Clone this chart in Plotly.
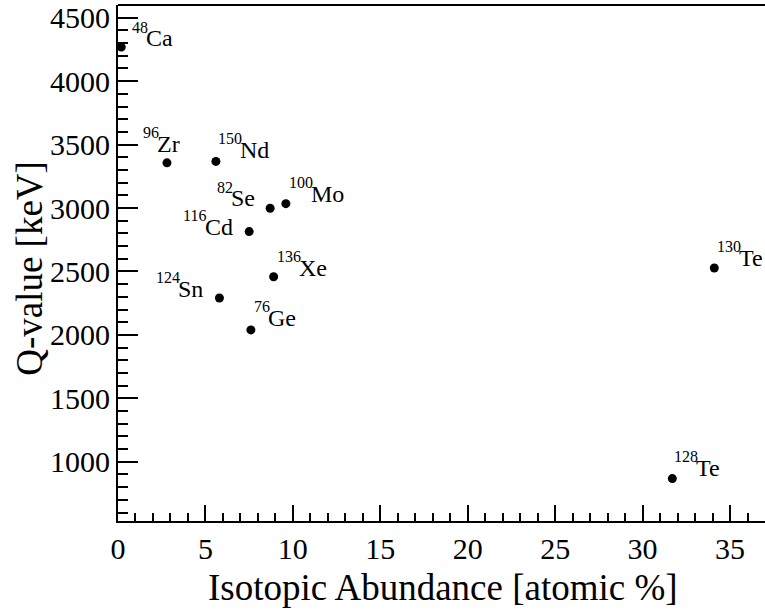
import plotly.graph_objects as go

# Data
isotopes = ["48Ca", "76Ge", "82Se", "96Zr", "100Mo", "116Cd", "124Sn", "128Te", "130Te", "136Xe", "150Nd"]
mass_numbers = ["48", "76", "82", "96", "100", "116", "124", "128", "130", "136", "150"]
elements = ["Ca", "Ge", "Se", "Zr", "Mo", "Cd", "Sn", "Te", "Te", "Xe", "Nd"]
abundance = [0.187, 7.6, 8.7, 2.8, 9.6, 7.5, 5.8, 31.7, 34.1, 8.9, 5.6]
qvalue = [4268, 2039, 2998, 3356, 3034, 2814, 2291, 867, 2527, 2458, 3367]

# label offsets in pixels (left edge, baseline) relative to each point
label_dx = {"48Ca": 10, "76Ge": 2, "82Se": -54, "96Zr": -25, "100Mo": 2, "116Cd": -67,
            "124Sn": -64, "128Te": 1, "130Te": 2, "136Xe": 2, "150Nd": 1}
label_dy = {"48Ca": 0, "76Ge": -3, "82Se": -1, "96Zr": -10, "100Mo": -1, "116Cd": 4,
            "124Sn": 0, "128Te": -2, "130Te": -1, "136Xe": 0, "150Nd": -3}

FONT = "Liberation Serif"
W, H = 765, 613
L, R, T, B = 117.5, 0, 4.5, 92
EL_FS = 24      # element symbol font size
SUP_FS = 16     # mass number font size
SUP_RISE = 14   # baseline rise of mass number
DESC = 0.216    # font descent fraction

fig = go.Figure()
fig.add_trace(go.Scatter(
    x=abundance, y=qvalue, mode="markers",
    marker=dict(symbol="circle", size=9, color="black"),
    hoverinfo="x+y", showlegend=False,
))

annotations = []
for iso, m, el, xv, yv in zip(isotopes, mass_numbers, elements, abundance, qvalue):
    dx, dy = label_dx[iso], label_dy[iso]
    annotations.append(dict(
        x=xv, y=yv, xref="x", yref="y",
        text=m, showarrow=False,
        xanchor="left", yanchor="bottom",
        xshift=dx, yshift=-(dy - SUP_RISE) - DESC * SUP_FS,
        font=dict(family=FONT, size=SUP_FS, color="black"),
        borderpad=0,
    ))
    annotations.append(dict(
        x=xv, y=yv, xref="x", yref="y",
        text=el, showarrow=False,
        xanchor="left", yanchor="bottom",
        xshift=dx + len(m) * 0.5 * SUP_FS - 2, yshift=-dy - DESC * EL_FS,
        font=dict(family=FONT, size=EL_FS, color="black"),
        borderpad=0,
    ))

pw = W - L - R
ph = H - T - B
TITLE_FS = 37
# axis titles
annotations.append(dict(
    x=(679 - L) / pw, y=-(601 + DESC * TITLE_FS - T - ph) / ph, xref="paper", yref="paper",
    text="Isotopic Abundance [atomic %]", showarrow=False,
    xanchor="right", yanchor="bottom", borderpad=0,
    font=dict(family=FONT, size=TITLE_FS, color="black"),
))
annotations.append(dict(
    x=(29 - L) / pw, y=1 - (268 - T) / ph, xref="paper", yref="paper",
    text="Q-value [keV]", showarrow=False, textangle=-90,
    xanchor="center", yanchor="middle", borderpad=0,
    font=dict(family=FONT, size=TITLE_FS, color="black"),
))

fig.update_layout(
    width=W, height=H,
    margin=dict(l=L, r=R, t=T, b=B, pad=0),
    paper_bgcolor="white", plot_bgcolor="white",
    font=dict(family=FONT, color="black"),
    annotations=annotations,
    xaxis=dict(
        range=[0, (W - L) / 17.5], tickmode="linear", tick0=0, dtick=5,
        ticks="inside", ticklen=16, tickwidth=1.5, tickcolor="black",
        minor=dict(dtick=1, ticks="inside", ticklen=8, tickwidth=1.5, tickcolor="black", showgrid=False),
        showgrid=False, zeroline=False,
        showline=True, linecolor="black", linewidth=2, mirror=False,
        tickfont=dict(family=FONT, size=30, color="black"),
    ),
    yaxis=dict(
        range=[533, 4600], tickmode="linear", tick0=0, dtick=500,
        ticks="inside", ticklen=20, tickwidth=1.5, tickcolor="black",
        minor=dict(dtick=100, ticks="inside", ticklen=10, tickwidth=1.5, tickcolor="black", showgrid=False),
        showgrid=False, zeroline=False,
        showline=True, linecolor="black", linewidth=2, mirror=False,
        tickfont=dict(family=FONT, size=30, color="black"),
    ),
    shapes=[dict(type="line", xref="paper", yref="paper", x0=0, x1=1, y0=1, y1=1,
                 line=dict(color="black", width=2))],
)

fig.write_html("out.html", config={"displayModeBar": False},
               post_script="document.body.style.margin='0';document.body.style.overflow='hidden';")
